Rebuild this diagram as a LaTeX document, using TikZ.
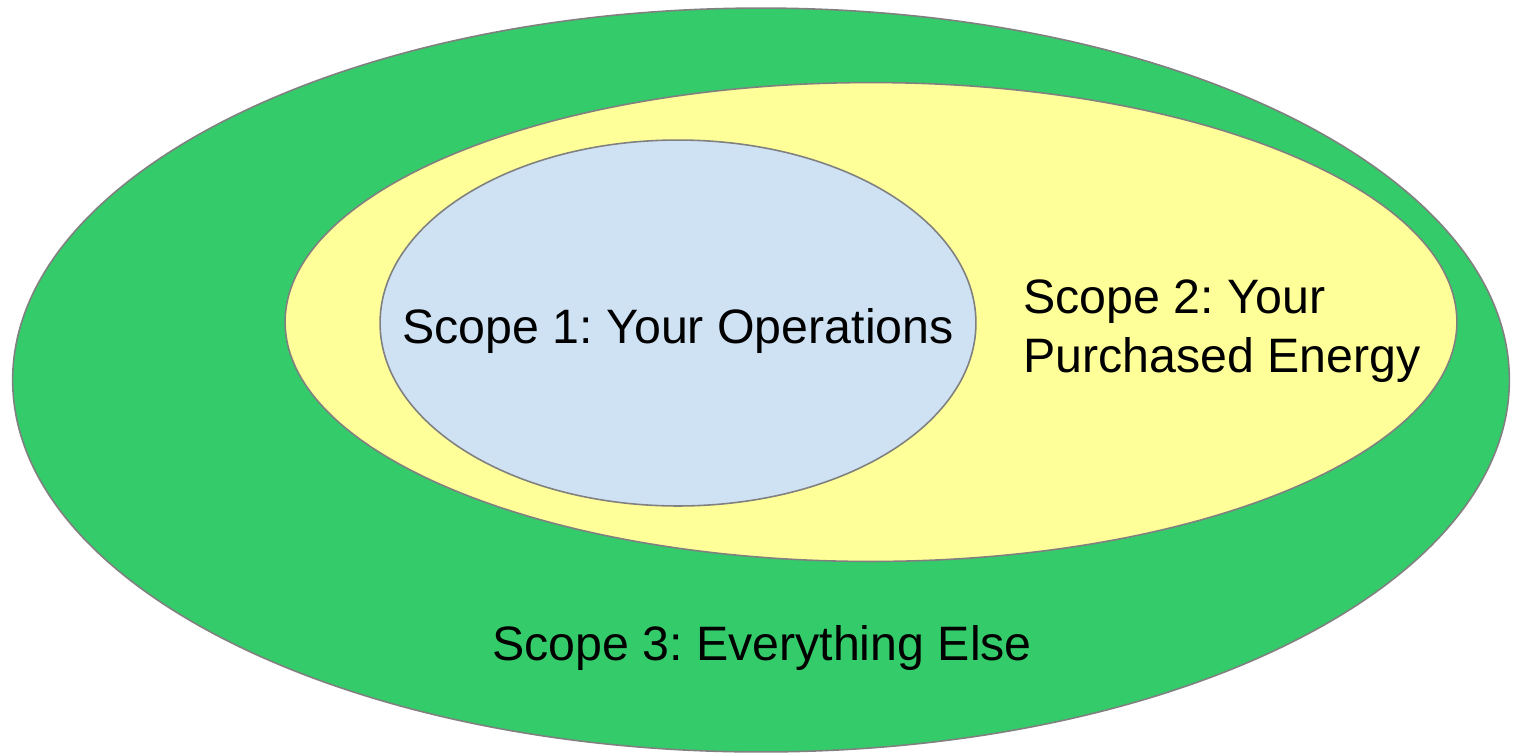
\documentclass[tikz,border=0pt]{standalone}
\usepackage{fontspec}
\setmainfont{Liberation Sans}
\usetikzlibrary{shapes.geometric}
\definecolor{scopegreen}{RGB}{52,204,106}
\definecolor{scopeyellow}{RGB}{255,255,153}
\definecolor{scopeblue}{RGB}{207,226,243}
\definecolor{rimgray}{RGB}{128,128,128}
\frenchspacing

\begin{document}
\begin{tikzpicture}[x=0.02cm, y=-0.02cm,
    zone/.style={ellipse, draw=rimgray, line width=0.9pt, inner sep=0pt},
    label/.style={font=\fontsize{27.5}{31}\selectfont, inner sep=0pt, anchor=base}]

    \useasboundingbox (0,0) rectangle (1513,755);

    \node[zone, fill=scopegreen, minimum width=29.94cm, minimum height=14.88cm] (s3) at (761,380) {};
    \node[zone, fill=scopeyellow, minimum width=23.44cm, minimum height=9.58cm] (s2) at (871,322) {};
    \node[zone, fill=scopeblue, minimum width=11.92cm, minimum height=7.32cm] (s1) at (678,323) {};

    \node[label] (t1) at (678,343) {Scope 1: Your Operations};
    \node[label, anchor=base west] (t2a) at (1023,313) {Scope 2: Your};
    \node[label, anchor=base west] (t2b) at (1023,372) {Purchased Energy};
    \node[label] (t3) at (762,660) {Scope 3: Everything Else};

\end{tikzpicture}
\end{document}
